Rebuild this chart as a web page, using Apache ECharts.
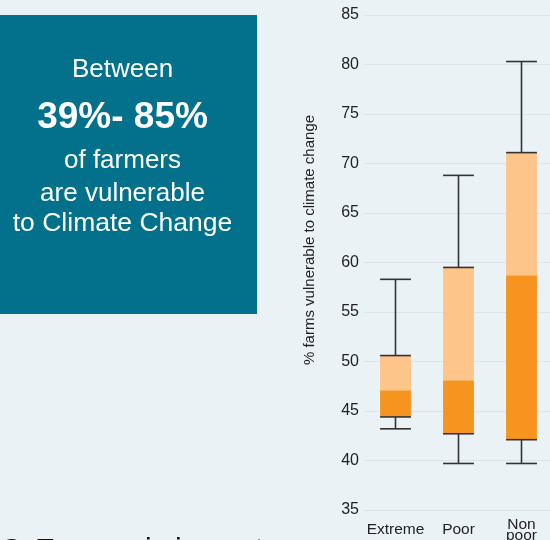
<!DOCTYPE html>
<html>
<head>
<meta charset="utf-8">
<script src="https://cdn.jsdelivr.net/npm/echarts@6/dist/echarts.min.js"></script>
<style>
html,body{margin:0;padding:0;background:#EBF2F6;}
#main{width:550px;height:540px;}
</style>
</head>
<body>
<div id="main"></div>
<script>
// ---- Data ----
const categories = ['Extreme', 'Poor', 'Non\npoor'];
const whiskerLow  = [43.2, 39.7, 39.7];
const q1          = [44.4, 42.7, 42.1];
const median      = [47.1, 48.1, 58.7];
const q3          = [50.6, 59.5, 71.1];
const whiskerHigh = [58.3, 68.8, 80.3];
const yTicks = { min: 35, max: 85, interval: 5 };
const yAxisTitle = '% farms vulnerable to climate change';
const calloutLines = ['Between', '39%- 85%', 'of farmers', 'are vulnerable', 'to Climate Change'];
const footerLetter = 'C';
const footerText = 'Economic impact';

const seriesData = categories.map((c, i) => [i, whiskerLow[i], q1[i], median[i], q3[i], whiskerHigh[i]]);

const FONT = '"Liberation Sans", Arial, Helvetica, sans-serif';
const DARK = '#F7941F';
const LIGHT = '#FDC58A';
const LINE = '#333333';

function renderItem(params, api) {
  const x = api.value(0);
  const lo = api.coord([x, api.value(1)]);
  const b1 = api.coord([x, api.value(2)]);
  const md = api.coord([x, api.value(3)]);
  const b3 = api.coord([x, api.value(4)]);
  const hi = api.coord([x, api.value(5)]);
  const w = api.size([1, 0])[0] * 0.49;
  const cx = lo[0];
  const l = cx - w / 2, r = cx + w / 2;
  const ls = { stroke: LINE, lineWidth: 1.6 };
  return {
    type: 'group',
    children: [
      { type: 'rect', shape: { x: l, y: md[1], width: w, height: b1[1] - md[1] }, style: { fill: DARK } },
      { type: 'rect', shape: { x: l, y: b3[1], width: w, height: md[1] - b3[1] }, style: { fill: LIGHT } },
      { type: 'line', shape: { x1: cx, y1: b3[1], x2: cx, y2: hi[1] }, style: ls },
      { type: 'line', shape: { x1: cx, y1: b1[1], x2: cx, y2: lo[1] }, style: ls },
      { type: 'line', shape: { x1: l, y1: hi[1], x2: r, y2: hi[1] }, style: ls },
      { type: 'line', shape: { x1: l, y1: lo[1], x2: r, y2: lo[1] }, style: ls },
      { type: 'line', shape: { x1: l, y1: b3[1], x2: r, y2: b3[1] }, style: ls },
      { type: 'line', shape: { x1: l, y1: b1[1], x2: r, y2: b1[1] }, style: ls }
    ]
  };
}

const calloutY = [70, 118, 161, 194, 224];
const calloutSize = [26, 37, 26, 26, 26.5];

const graphics = [
  { type: 'rect', left: 0, top: 15, shape: { x: 0, y: 0, width: 257, height: 299 }, style: { fill: '#03708C' }, z: 0 }
];
calloutLines.forEach((t, i) => {
  graphics.push({
    type: 'text', x: 122.5, y: calloutY[i], z: 5,
    style: {
      text: t, fill: '#ffffff', align: 'center', verticalAlign: 'middle',
      font: (i === 1 ? 'bold ' : '') + calloutSize[i] + 'px ' + FONT
    }
  });
});
graphics.push({
  type: 'text', x: 310, y: 240, rotation: Math.PI / 2, z: 5,
  style: { text: yAxisTitle, fill: '#222', align: 'center', verticalAlign: 'middle', font: '15px ' + FONT }
});
graphics.push({
  type: 'text', x: 0, y: 551, z: 5,
  style: { text: footerLetter, fill: '#111', align: 'left', verticalAlign: 'middle', font: 'bold 30px ' + FONT }
});
graphics.push({
  type: 'text', x: 35, y: 551, z: 5,
  style: { text: footerText, fill: '#111', align: 'left', verticalAlign: 'middle', font: '30px ' + FONT }
});

const chart = echarts.init(document.getElementById('main'), null, { renderer: 'canvas' });
chart.setOption({
  backgroundColor: '#EBF2F6',
  animation: false,
  grid: { left: 364, width: 189, top: 15, bottom: 30, containLabel: false, outerBoundsMode: 'none' },
  xAxis: {
    type: 'category',
    data: categories,
    axisLine: { show: false },
    axisTick: { show: false },
    splitLine: { show: false },
    axisLabel: {
      color: '#222', fontSize: 15.5, fontFamily: FONT, margin: 20,
      verticalAlign: 'middle', lineHeight: 11, interval: 0
    }
  },
  yAxis: {
    type: 'value',
    min: yTicks.min, max: yTicks.max, interval: yTicks.interval,
    axisLine: { show: false },
    axisTick: { show: false },
    splitLine: { lineStyle: { color: '#DCE4E9', width: 1 } },
    axisLabel: { color: '#222', fontSize: 16, fontFamily: FONT, margin: 5 }
  },
  graphic: graphics,
  series: [{
    type: 'custom',
    renderItem: renderItem,
    data: seriesData,
    encode: { x: 0, y: [1, 2, 3, 4, 5] },
    z: 3
  }]
});
</script>
</body>
</html>
